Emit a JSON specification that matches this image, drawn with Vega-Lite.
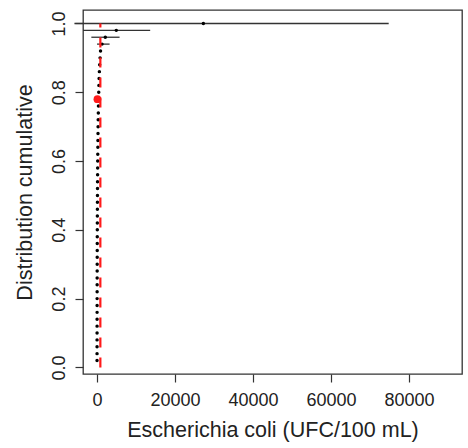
{
  "$schema": "https://vega.github.io/schema/vega-lite/v6.json",
  "autosize": "none",
  "padding": {"left": 83, "top": 10, "right": 6, "bottom": 74},
  "width": 379,
  "height": 364,
  "config": {
    "view": {"stroke": "#333", "strokeWidth": 1.3},
    "font": "Liberation Sans",
    "axis": {
      "domain": false, "grid": false, "tickColor": "#333", "tickSize": 8, "tickWidth": 1.2,
      "labelFont": "Liberation Sans", "labelFontSize": 18, "labelColor": "#222",
      "titleFont": "Liberation Sans", "titleFontSize": 21.5, "titleFontWeight": "normal", "titleColor": "#222"
    }
  },
  "datasets": {
    "pts": [
      {"y": 0.02, "x": 1}, {"y": 0.04, "x": 2}, {"y": 0.06, "x": 4}, {"y": 0.08, "x": 5}, {"y": 0.10, "x": 8},
      {"y": 0.12, "x": 10}, {"y": 0.14, "x": 12}, {"y": 0.16, "x": 15}, {"y": 0.18, "x": 18}, {"y": 0.20, "x": 20},
      {"y": 0.22, "x": 24}, {"y": 0.24, "x": 28}, {"y": 0.26, "x": 31}, {"y": 0.28, "x": 35}, {"y": 0.30, "x": 40},
      {"y": 0.32, "x": 45}, {"y": 0.34, "x": 50}, {"y": 0.36, "x": 55}, {"y": 0.38, "x": 60}, {"y": 0.40, "x": 68},
      {"y": 0.42, "x": 75}, {"y": 0.44, "x": 82}, {"y": 0.46, "x": 90}, {"y": 0.48, "x": 100}, {"y": 0.50, "x": 110},
      {"y": 0.52, "x": 120}, {"y": 0.54, "x": 130}, {"y": 0.56, "x": 145}, {"y": 0.58, "x": 160}, {"y": 0.60, "x": 175},
      {"y": 0.62, "x": 190}, {"y": 0.64, "x": 210}, {"y": 0.66, "x": 230}, {"y": 0.68, "x": 250}, {"y": 0.70, "x": 270},
      {"y": 0.72, "x": 300}, {"y": 0.74, "x": 330}, {"y": 0.76, "x": 360}, {"y": 0.78, "x": 400}, {"y": 0.80, "x": 440},
      {"y": 0.82, "x": 480}, {"y": 0.84, "x": 530}, {"y": 0.86, "x": 600}, {"y": 0.88, "x": 680}, {"y": 0.90, "x": 780},
      {"y": 0.92, "x": 900},
      {"y": 0.94, "x": 1280, "lo": 0, "hi": 3220},
      {"y": 0.96, "x": 2120, "lo": -1460, "hi": 5780},
      {"y": 0.98, "x": 4940, "lo": -3600, "hi": 13630},
      {"y": 1.00, "x": 27270, "lo": -5800, "hi": 74800}
    ],
    "ref": [{"x": 850, "y0": 0, "y1": 1}],
    "mark": [{"x": 100, "y": 0.78}]
  },
  "layer": [
    {
      "data": {"name": "pts"},
      "transform": [{"filter": "datum.lo != null"}],
      "mark": {"type": "rule", "color": "#333", "strokeWidth": 1.3},
      "encoding": {
        "x": {"field": "lo", "type": "quantitative",
              "scale": {"domain": [-3600, 93600], "nice": false, "zero": false},
              "axis": {"values": [0, 20000, 40000, 60000, 80000], "format": "d", "labelPadding": 9, "title": "Escherichia coli (UFC/100 mL)", "titlePadding": 10}},
        "x2": {"field": "hi"},
        "y": {"field": "y", "type": "quantitative",
              "scale": {"domain": [-0.0192, 1.0392], "nice": false, "zero": false},
              "axis": {"values": [0, 0.2, 0.4, 0.6, 0.8, 1.0], "format": ".1f", "labelAngle": 270, "labelAlign": "center", "labelBaseline": "bottom", "labelPadding": 7, "title": "Distribution cumulative", "titlePadding": 14}}
      }
    },
    {
      "data": {"name": "pts"},
      "mark": {"type": "circle", "color": "black", "size": 12, "opacity": 1},
      "encoding": {
        "x": {"field": "x", "type": "quantitative"},
        "y": {"field": "y", "type": "quantitative"}
      }
    },
    {
      "data": {"name": "ref"},
      "mark": {"type": "rule", "color": "#ff1a1a", "strokeWidth": 2.2, "strokeDash": [10, 10]},
      "encoding": {
        "x": {"field": "x", "type": "quantitative"},
        "y": {"field": "y0", "type": "quantitative"},
        "y2": {"field": "y1"}
      }
    },
    {
      "data": {"name": "mark"},
      "mark": {"type": "circle", "color": "#ff1a1a", "size": 60, "opacity": 1},
      "encoding": {
        "x": {"field": "x", "type": "quantitative"},
        "y": {"field": "y", "type": "quantitative"}
      }
    }
  ]
}
